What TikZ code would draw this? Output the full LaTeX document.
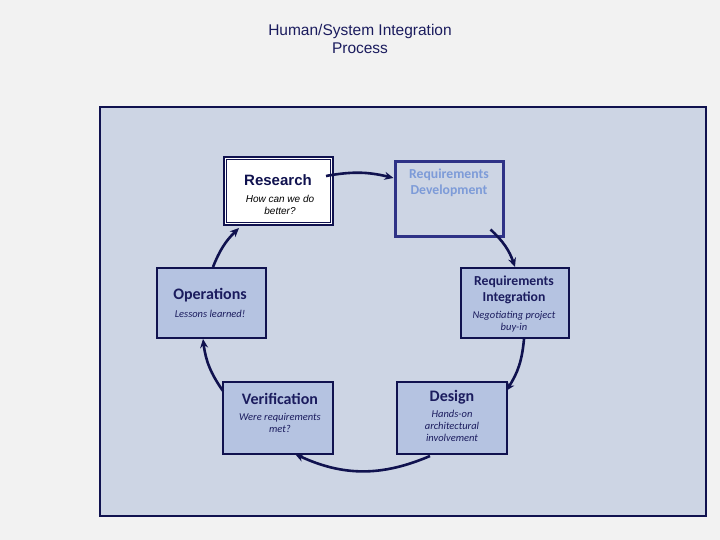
\documentclass[tikz,border=0pt]{standalone}
\usepackage{fontspec}
\setmainfont{Carlito}
\newfontfamily\arialf{Liberation Sans}
\usetikzlibrary{arrows.meta}
\definecolor{bgc}{HTML}{F2F2F2}
\definecolor{panelc}{HTML}{CDD5E4}
\definecolor{boxc}{HTML}{B5C3E1}
\definecolor{navy}{HTML}{10124F}
\definecolor{txtc}{HTML}{1B1C5E}
\definecolor{devb}{HTML}{2E3286}
\definecolor{devt}{HTML}{7D9BD8}
\tikzset{
  box/.style={draw=navy, line width=2pt, fill=boxc, inner sep=0pt, anchor=center},
  head/.style={text=txtc, font=\bfseries\fontsize{16}{18}\selectfont, inner sep=0pt},
  rhead/.style={text=txtc, font=\bfseries\fontsize{13.7}{16.5}\selectfont, inner sep=0pt, align=center},
  sub/.style={text=txtc, font=\itshape\fontsize{10.5}{12}\selectfont, inner sep=0pt, align=center},
  arr/.style={draw=navy, line width=2.6pt, -{Stealth[length=9pt,width=8pt]}, shorten >=0pt}
}
\begin{document}
\begin{tikzpicture}[x=1pt,y=1pt]
\fill[bgc] (0,0) rectangle (720,540);
\useasboundingbox (0,0) rectangle (720,540);
% panel
\draw[navy, line width=2pt, fill=panelc] (100,24) rectangle (706,433);
% title
\node[text=txtc, font=\arialf\fontsize{15.5}{18.5}\selectfont, align=center, inner sep=0pt] (title) at (360,501) {Human/System Integration\\Process};
% boxes
\node[box, fill=white, minimum width=109pt, minimum height=68pt] (res) at (278.5,349) {};
\draw[navy, line width=0.8pt] ([shift={(3.5,3.5)}]res.south west) rectangle ([shift={(-3.5,-3.5)}]res.north east);
\node[box, draw=devb, line width=3pt, fill=panelc, minimum width=108pt, minimum height=75pt] (dev) at (449,340.5) {};
\node[box, minimum width=108pt, minimum height=70pt] (int) at (515,237) {};
\node[box, minimum width=109pt, minimum height=70pt] (ops) at (211.5,237) {};
\node[box, minimum width=110pt, minimum height=72pt] (ver) at (278,122) {};
\node[box, minimum width=110pt, minimum height=72pt] (des) at (452,122) {};
% texts
\node[text=navy, font=\arialf\bfseries\fontsize{15}{18}\selectfont, inner sep=0pt] (rest) at (278,360) {Research};
\node[text=black, font=\arialf\itshape\fontsize{10}{12}\selectfont, align=center, inner sep=0pt] (ress) at (280,335) {How can we do\\better?};
\node[rhead, text=devt] (devt) at (449,357) {Requirements\\Development};
\node[rhead] (intt) at (514,250) {Requirements\\Integration};
\node[sub] (ints) at (514,218) {Negotiating project\\buy-in};
\node[head] (opst) at (210,245) {Operations};
\node[sub] (opss) at (210,226) {Lessons learned!};
\node[head] (vert) at (280,141) {Verification};
\node[sub] (vers) at (280,117) {Were requirements\\met?};
\node[head] (dest) at (452,143) {Design};
\node[sub] (dess) at (452,114) {Hands-on\\architectural\\involvement};
% connectors
\coordinate (a1) at ([shift={(-8,15)}]res.east);
\coordinate (b1) at ([yshift=21.5]dev.west);
\draw[arr] (a1) to[bend left=12] (b1);
\coordinate (a2) at ([shift={(-14,9)}]dev.south east);
\coordinate (b2) at (int.north);
\draw[arr] (a2) to[bend left=14] (b2);
\coordinate (a3) at ([xshift=9]int.south);
\coordinate (b3) at ([shift={(-2,-10)}]des.north east);
\draw[arr] (a3) to[bend left=14] (b3);
\coordinate (a4) at ([shift={(-22,-1)}]des.south);
\coordinate (b4) at ([shift={(17,1)}]ver.south);
\draw[arr] (a4) to[bend left=24] (b4);
\coordinate (a5) at ([shift={(1,-10)}]ver.north west);
\coordinate (b5) at ([xshift=-8.5]ops.south);
\draw[arr] (a5) to[bend left=14] (b5);
\coordinate (a6) at ([xshift=1.5]ops.north);
\coordinate (b6) at ([shift={(16,-2)}]res.south west);
\draw[arr] (a6) to[bend left=12] (b6);
\end{tikzpicture}
\end{document}
